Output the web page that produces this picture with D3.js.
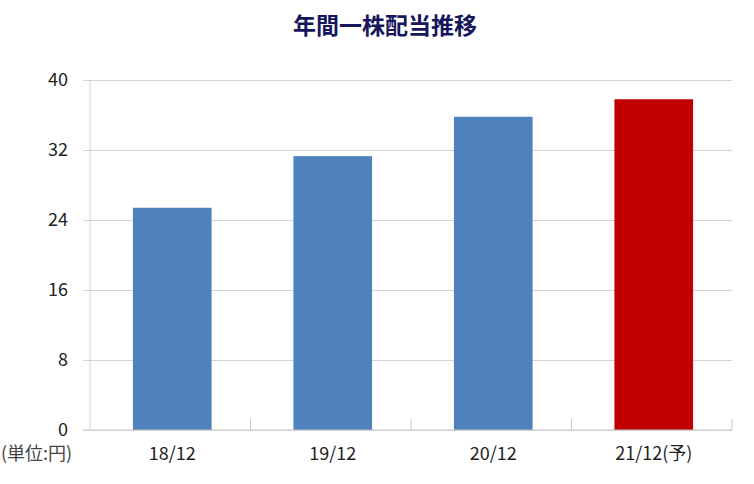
<!DOCTYPE html>
<html>
<head>
<meta charset="utf-8">
<title>年間一株配当推移</title>
<script src="https://d3js.org/d3.v7.min.js"></script>
<style>
  body{ margin:0; background:#fff; }
  svg{ display:block; font-family:"Noto Sans CJK JP","Noto Sans",sans-serif; }
</style>
</head>
<body>
<div id="chart"></div>
<script>
// data
var categories = ["18/12","19/12","20/12","21/12(予)"]
var dividends = [25.4, 31.3, 35.8, 37.8]
var barColors = ["#4f81bd","#4f81bd","#4f81bd","#c00000"]
var yTicks = [0, 8, 16, 24, 32, 40]

var width = 754, height = 484
var margin = {left:90, right:22, top:80, bottom:54}

var svg = d3.select("#chart").append("svg")
    .attr("width", width)
    .attr("height", height)

// category slots (for boundary ticks) and bars sitting slightly right in each slot
var slots = d3.scaleBand()
    .domain(categories)
    .range([margin.left, width - margin.right])

var x = d3.scaleBand()
    .domain(categories)
    .range([margin.left + 2, width - margin.right + 2])
    .paddingInner(0.51)
    .paddingOuter(0.255)

var y = d3.scaleLinear()
    .domain([0, 40])
    .range([height - margin.bottom, margin.top])

// title
svg.append("text")
    .attr("x", 385)
    .attr("y", 34)
    .attr("text-anchor", "middle")
    .attr("font-size", 23)
    .attr("font-weight", "bold")
    .attr("fill", "#16165c")
    .text("年間一株配当推移")

// gridlines + y labels
var yAxis = d3.axisLeft(y)
    .tickValues(yTicks)
    .tickSize(-(width - margin.right - margin.left + 7))
    .tickPadding(15)

var gy = svg.append("g")
    .attr("transform", "translate(" + (margin.left - 7) + ",0)")
    .call(yAxis)
gy.select(".domain").remove()
gy.selectAll(".tick line").attr("stroke", "#d4d4d4").attr("stroke-width", 1)
gy.selectAll(".tick text")
    .attr("font-size", 18)
    .attr("fill", "#222")
    .attr("font-family", "Noto Sans CJK JP, Noto Sans, sans-serif")

// vertical axis line
svg.append("line")
    .attr("x1", margin.left).attr("x2", margin.left)
    .attr("y1", y(40)).attr("y2", y(0))
    .attr("stroke", "#d4d4d4")

// bars
svg.selectAll(".bar")
    .data(dividends)
    .enter()
    .append("rect")
    .attr("class", "bar")
    .attr("x", function(d, i){ return x(categories[i]) })
    .attr("y", function(d){ return y(d) })
    .attr("width", x.bandwidth())
    .attr("height", function(d){ return y(0) - y(d) })
    .attr("fill", function(d, i){ return barColors[i] })

// x axis line and category boundary ticks
svg.append("line")
    .attr("x1", margin.left - 7).attr("x2", width - margin.right)
    .attr("y1", y(0)).attr("y2", y(0))
    .attr("stroke", "#c8c8c8")

svg.selectAll(".xtick")
    .data(categories)
    .enter()
    .append("line")
    .attr("class", "xtick")
    .attr("x1", function(d){ return slots(d) + slots.bandwidth() })
    .attr("x2", function(d){ return slots(d) + slots.bandwidth() })
    .attr("y1", y(0) - 11)
    .attr("y2", y(0))
    .attr("stroke", "#c8c8c8")

// category labels
svg.selectAll(".xlabel")
    .data(categories)
    .enter()
    .append("text")
    .attr("class", "xlabel")
    .attr("x", function(d){ return x(d) + x.bandwidth() / 2 })
    .attr("y", 460)
    .attr("text-anchor", "middle")
    .attr("font-size", 18)
    .attr("fill", "#222")
    .text(function(d){ return d })

// unit label
svg.append("text")
    .attr("x", 1)
    .attr("y", 460)
    .attr("font-size", 18)
    .attr("fill", "#444")
    .text("(単位:円)")
</script>
</body>
</html>
